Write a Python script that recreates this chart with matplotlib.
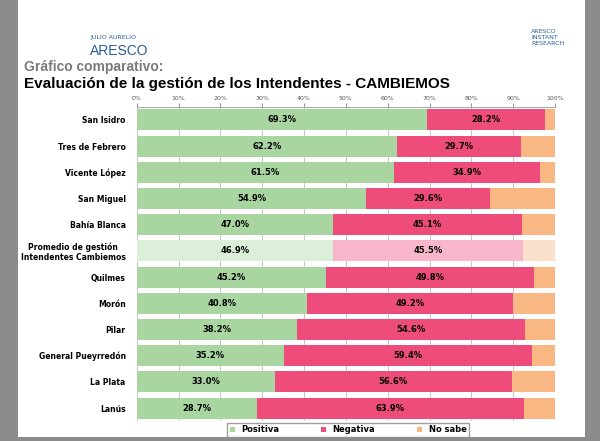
import matplotlib
matplotlib.use("Agg")
import matplotlib.pyplot as plt
from matplotlib.patches import Rectangle

categories = ["San Isidro", "Tres de Febrero", "Vicente López", "San Miguel", "Bahía Blanca",
              "Promedio de gestión\nIntendentes Cambiemos", "Quilmes", "Morón", "Pilar",
              "General Pueyrredón", "La Plata", "Lanús"]
positiva = [69.3, 62.2, 61.5, 54.9, 47.0, 46.9, 45.2, 40.8, 38.2, 35.2, 33.0, 28.7]
negativa = [28.2, 29.7, 34.9, 29.6, 45.1, 45.5, 49.8, 49.2, 54.6, 59.4, 56.6, 63.9]
no_sabe = [2.5, 8.1, 3.6, 15.5, 7.9, 7.6, 5.0, 10.0, 7.2, 5.4, 10.4, 7.4]
ticks = [0, 10, 20, 30, 40, 50, 60, 70, 80, 90, 100]

fig = plt.figure(figsize=(6, 4.41), dpi=100)
fig.patch.set_facecolor("#8c8c8c")
fig.add_artist(Rectangle((0.03, 0.01), 0.945, 0.99, transform=fig.transFigure,
                         facecolor="white", edgecolor="none", zorder=0))

fig.text(0.15, 0.915, "JULIO AURELIO", fontsize=4.5, color="#2a5d9a", ha="left", va="center")
fig.text(0.15, 0.885, "ARESCO", fontsize=10, color="#2a5d9a", ha="left", va="center",
         family="Liberation Sans")
fig.text(0.885, 0.915, "ARESCO\nINSTANT\nRESEARCH", fontsize=4.5, color="#2a5d9a", ha="left", va="center")
fig.text(0.04, 0.84, "Gráfico comparativo:", fontsize=10, fontweight="bold", color="#7a7a7a",
         family="Liberation Sans")
fig.text(0.04, 0.80, "Evaluación de la gestión de los Intendentes - CAMBIEMOS", fontsize=11,
         fontweight="bold", color="black", family="Liberation Sans")

ax = fig.add_axes([0.228, 0.045, 0.697, 0.713])
y = list(range(len(categories)))
g_colors = ["#a8d5a0" if i != 5 else "#dcefd8" for i in y]
r_colors = ["#ee4c7a" if i != 5 else "#f7b6c9" for i in y]
o_colors = ["#f8b783" if i != 5 else "#fbe0cc" for i in y]
h = 0.8
ax.barh(y, positiva, height=h, color=g_colors, label="Positiva", zorder=2)
ax.barh(y, negativa, left=positiva, height=h, color=r_colors, label="Negativa", zorder=2)
lefts = [p + n for p, n in zip(positiva, negativa)]
ax.barh(y, no_sabe, left=lefts, height=h, color=o_colors, label="No sabe", zorder=2)
for i in y:
    ax.text(positiva[i] / 2, i, f"{positiva[i]:.1f}%", ha="center", va="center", fontsize=6, fontweight="bold")
    ax.text(positiva[i] + negativa[i] / 2, i, f"{negativa[i]:.1f}%", ha="center", va="center", fontsize=6, fontweight="bold")

ax.set_xlim(0, 100)
ax.set_ylim(len(categories) - 0.5, -0.5)
ax.set_yticks(y)
ax.set_yticklabels(categories, fontsize=5.5, fontweight="bold")
for lbl in ax.get_yticklabels():
    lbl.set_multialignment("center")
ax.xaxis.tick_top()
ax.set_xticks(ticks)
ax.set_xticklabels([f"{t}%" for t in ticks], fontsize=4.5, color="#555555")
ax.tick_params(axis="y", length=0, pad=8)
ax.tick_params(axis="x", length=3, color="#999999", pad=1)
ax.grid(axis="x", color="#bbbbbb", linewidth=0.6, zorder=1)
for s in ["right", "bottom", "left"]:
    ax.spines[s].set_visible(False)
ax.spines["top"].set_color("#aaaaaa")

leg = fig.legend(loc="lower center", bbox_to_anchor=(0.58, 0.0), ncol=3, fontsize=6,
                 handlelength=0.6, handleheight=0.6, columnspacing=5, frameon=True,
                 fancybox=False, borderpad=0.3, prop={"weight": "bold", "size": 6})
leg.get_frame().set_edgecolor("#888888")
fig.savefig("out.png", dpi=100, facecolor=fig.get_facecolor())
